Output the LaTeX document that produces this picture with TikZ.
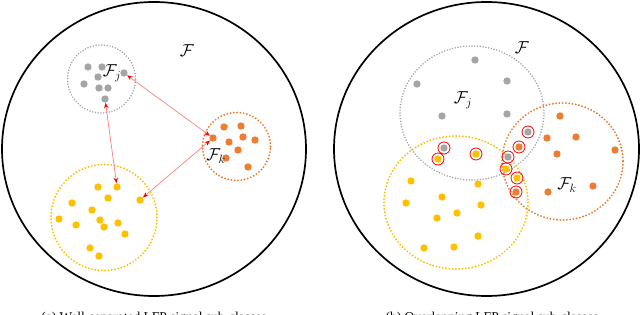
\documentclass[tikz,border=0pt]{standalone}
\usepackage{fontspec}
\setmainfont{Liberation Serif}
\usetikzlibrary{arrows.meta, positioning}
\definecolor{clsgray}{HTML}{A5A5A5}
\definecolor{clsorange}{HTML}{ED7D31}
\definecolor{clsyellow}{HTML}{FFC000}
\definecolor{arrline}{HTML}{FF7F7F}

\begin{document}
\begin{tikzpicture}[
      x=1pt, y=-1pt,
      outer/.style={draw=black, line width=1.7pt},
      gbound/.style={draw=clsgray, line width=1.7pt, line cap=round, dash pattern=on 0pt off 2.8pt},
      obound/.style={draw=clsorange, line width=2.1pt, line cap=round, dash pattern=on 0pt off 3.3pt},
      ybound/.style={draw=clsyellow, line width=2.1pt, line cap=round, dash pattern=on 0pt off 3.3pt},
      dot/.style={circle, inner sep=0pt, minimum size=7.4pt},
      gdot/.style={dot, fill=clsgray},
      odot/.style={dot, fill=clsorange},
      ydot/.style={dot, fill=clsyellow},
      ring/.style={draw=red, line width=0.8pt},
      lbl/.style={font=\fontsize{17}{20}\selectfont},
      subcap/.style={anchor=base, font=\fontsize{13.5}{16}\selectfont},
      arr/.style={{Stealth[length=5.5pt, width=4.5pt, color=red]}-{Stealth[length=5.5pt, width=4.5pt, color=red]}, arrline, line width=0.7pt}
   ]
      \useasboundingbox (0,0) rectangle (640,315);

      % (a) well-separated sub-classes
      \draw[outer] (154,149) ellipse (152 and 147);
      \draw[gbound] (101.5,79) circle (34pt);
      \draw[obound] (236.5,146.5) circle (34pt);
      \draw[ybound] (104,217.5) circle (53pt);
      \foreach \x/\y [count=\i] in {88/67, 102/67, 124/73, 98/77, 84/84, 99/88, 108/88, 105/99}
         \node[gdot] (ag\i) at (\x,\y) {};
      \foreach \x/\y [count=\i] in {213/138, 224/127, 241/126, 243/137, 255/140, 229/142, 238/150, 226/158, 248/167}
         \node[odot] (ao\i) at (\x,\y) {};
      \foreach \x/\y [count=\i] in {117/187, 140/200, 98/187, 108/198, 72/203, 92/210, 59/219, 100/220,
                                    118/223, 76/225, 104/227, 125/234, 90/248, 99/256}
         \node[ydot] (ay\i) at (\x,\y) {};
      \node[lbl] (aF) at (187,51) {$\mathcal{F}$};
      \node[lbl] (aFj) at (112,73) {$\mathcal{F}_j$};
      \node[lbl] (aFk) at (216,156) {$\mathcal{F}_k$};
      \draw[arr] (ag3) -- (ao1);
      \draw[arr] (ag8) -- (ay1);
      \draw[arr] (ao1) -- (ay2);
      \node[subcap] (acap) at (154,321) {(a) Well-separated LFP signal sub-classes};

      % (b) overlapping sub-classes
      \draw[outer] (486.5,149) ellipse (152.5 and 147);
      \draw[gbound] (472,113) ellipse (72 and 67);
      \draw[obound] (562.5,161.5) ellipse (60.5 and 58.5);
      \draw[ybound] (456,202.5) ellipse (72 and 66.5);
      \foreach \x/\y [count=\i] in {475/60, 417/84, 507/81, 442/116, 507/114}
         \node[gdot] (bg\i) at (\x,\y) {};
      \foreach \x/\y [count=\i] in {560/116, 547/138, 576/137, 557/154, 615/150, 548/192, 593/186}
         \node[odot] (bo\i) at (\x,\y) {};
      \foreach \x/\y [count=\i] in {411/181, 478/184, 406/203, 442/197, 481/205, 457/213, 437/218,
                                    478/236, 424/248, 454/247}
         \node[ydot] (by\i) at (\x,\y) {};
      % samples lying in the overlap
      \foreach \x/\y [count=\i] in {444/148, 528/132, 508/157}
         \node[gdot] (rg\i) at (\x,\y) {};
      \foreach \x/\y [count=\i] in {519/147, 516/192}
         \node[odot] (ro\i) at (\x,\y) {};
      \foreach \x/\y [count=\i] in {438/159, 476/154, 506/169, 517/178}
         \node[ydot] (ry\i) at (\x,\y) {};
      \foreach \n in {rg1, rg2, rg3, ro1, ro2, ry1, ry2, ry3, ry4}
         \draw[ring] (\n) circle (6pt);
      \node[lbl] (bF) at (522,48) {$\mathcal{F}$};
      \node[lbl] (bFj) at (463,100) {$\mathcal{F}_j$};
      \node[lbl] (bFk) at (567,185) {$\mathcal{F}_k$};
      \node[subcap] (bcap) at (492,321) {(b) Overlapping LFP signal sub-classes};
   \end{tikzpicture}
\end{document}
